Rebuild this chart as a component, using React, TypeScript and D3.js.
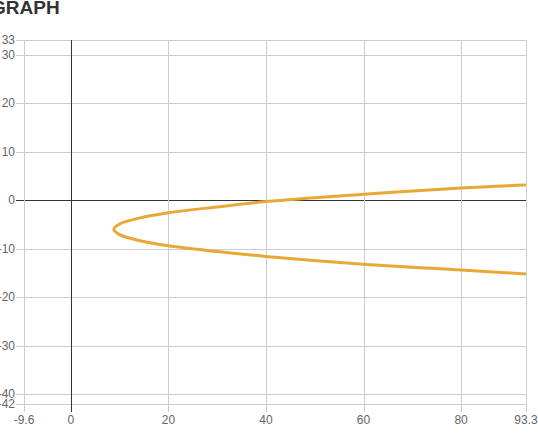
import { useEffect, useRef } from "react";
import * as d3 from "d3";

const xTicks = [-9.6, 0, 20, 40, 60, 80, 93.3];
const yTicks = [33, 30, 20, 10, 0, -10, -20, -30, -40, -42];

// points, upper branch then lower branch
const curveX = [93.3, 80, 60, 40, 30, 20, 14, 10, 8.8, 10, 14, 20, 30, 40, 60, 80, 93.3];
const curveY = [3.1, 2.5, 1.2, -0.3, -1.4, -2.6, -3.7, -4.9, -6, -7.1, -8.3, -9.4, -10.6, -11.6, -13.2, -14.4, -15.2];

export default function App() {
  const svgRef = useRef<SVGSVGElement>(null);

  useEffect(() => {
    const W = 538;
    const H = 439;
    const m = { top: 40, right: 12, bottom: 35, left: 24 };
    const font = "Liberation Sans, Arial, sans-serif";

    const root = d3.select(svgRef.current);
    root.selectAll("*").remove();
    root.attr("width", W).attr("height", H);

    const x = d3.scaleLinear().domain([-9.6, 93.3]).range([m.left, W - m.right]);
    const y = d3.scaleLinear().domain([-42, 33]).range([H - m.bottom, m.top]);
    const tick = 8;

    // title, partly off the left edge
    root
      .append("text")
      .attr("x", -9)
      .attr("y", 14)
      .attr("font-family", font)
      .attr("font-weight", 700)
      .attr("font-size", 19)
      .attr("fill", "#333")
      .text("GRAPH");

    // horizontal grid
    root
      .append("g")
      .selectAll("line")
      .data(yTicks)
      .join("line")
      .attr("x1", m.left - tick)
      .attr("x2", W - m.right)
      .attr("y1", (d) => Math.round(y(d)) + 0.5)
      .attr("y2", (d) => Math.round(y(d)) + 0.5)
      .attr("stroke", (d) => (d === 0 ? "#333" : "#ccc"))
      .attr("stroke-width", 1);

    // vertical grid
    root
      .append("g")
      .selectAll("line")
      .data(xTicks)
      .join("line")
      .attr("x1", (d) => Math.round(x(d)) + 0.5)
      .attr("x2", (d) => Math.round(x(d)) + 0.5)
      .attr("y1", m.top)
      .attr("y2", H - m.bottom + tick)
      .attr("stroke", (d) => (d === 0 ? "#333" : "#ccc"))
      .attr("stroke-width", 1);

    // y labels
    root
      .append("g")
      .selectAll("text")
      .data(yTicks)
      .join("text")
      .attr("x", m.left - tick - 1)
      .attr("y", (d) => y(d))
      .attr("dy", "0.35em")
      .attr("text-anchor", "end")
      .attr("font-family", font)
      .attr("font-size", 12)
      .attr("fill", "#666")
      .text((d) => String(d));

    // x labels
    root
      .append("g")
      .selectAll("text")
      .data(xTicks)
      .join("text")
      .attr("x", (d) => x(d))
      .attr("y", H - m.bottom + tick + 12)
      .attr("text-anchor", "middle")
      .attr("font-family", font)
      .attr("font-size", 12)
      .attr("fill", "#666")
      .text((d) => String(d));

    // curve
    const pts = curveX.map((v, i) => [v, curveY[i]] as [number, number]);
    const line = d3
      .line<[number, number]>()
      .x((d) => x(d[0]))
      .y((d) => y(d[1]))
      .curve(d3.curveCatmullRom);

    root
      .append("path")
      .datum(pts)
      .attr("d", line)
      .attr("fill", "none")
      .attr("stroke", "#e8a838")
      .attr("stroke-width", 3);
  }, []);

  return (
    <svg
      ref={svgRef}
      style={{ position: "absolute", left: 0, top: 0, display: "block", background: "#fff" }}
    />
  );
}
